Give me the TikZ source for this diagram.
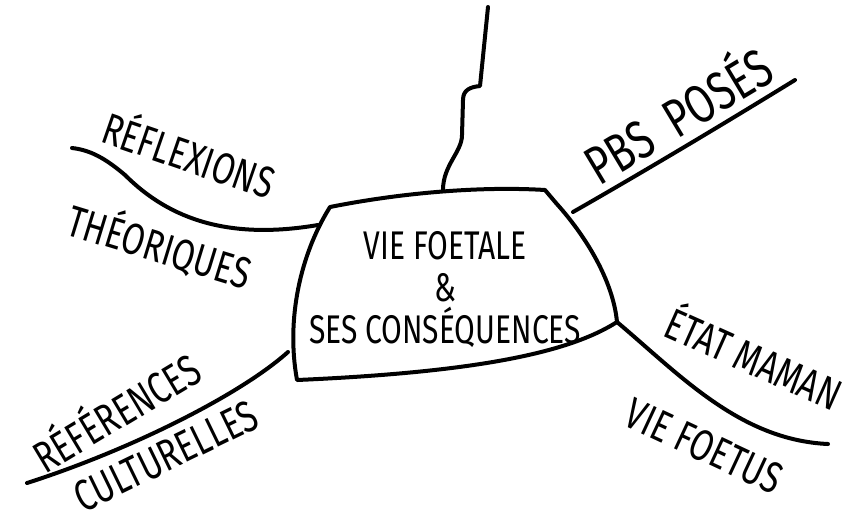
\documentclass[tikz,border=0pt]{standalone}
\usepackage{fontspec}
\newfontfamily\handfont[FakeStretch=0.75]{Fira Sans}
\begin{document}
\begin{tikzpicture}[x=0.5pt, y=-0.5pt, line width=2pt, line cap=round, line join=round,
  etiquette/.style={font=\handfont\fontsize{22}{22}\selectfont, inner sep=0pt},
  centre/.style={font=\handfont\fontsize{20}{21}\selectfont, align=center, inner sep=0pt}]
\useasboundingbox (0,0) rectangle (861,521);
% Coordonnees
\coordinate (HG) at (330,207);
\coordinate (HD) at (545,190);
\coordinate (D)  at (556,203);
\coordinate (BD) at (617,322);
\coordinate (BG) at (297,380);
\coordinate (tige)  at (443,190);
\coordinate (pbs)   at (573,212);
\coordinate (refl)  at (318,225);
\coordinate (ref)   at (288,352);
\coordinate (etat)  at (BD);
\coordinate (tigeF) at (488,7);
\coordinate (pbsF)  at (795,80);
\coordinate (reflF) at (72,148);
\coordinate (refF)  at (27,483);
\coordinate (etatF) at (828,444);
% Noeuds
\node [centre] (vie) at (445,290) {VIE FOETALE\\\&\\SES CONSÉQUENCES};
\node [etiquette, font=\handfont\fontsize{27}{27}\selectfont, rotate=31] (PBS) at (676,112) {PBS\ \ POSÉS};
\node [etiquette, rotate=-19] (REFL) at (190,152) {RÉFLEXIONS};
\node [etiquette, rotate=-17] (THEO) at (160,245) {THÉORIQUES};
\node [etiquette, rotate=31] (REF) at (115,410) {RÉFÉRENCES};
\node [etiquette, rotate=26] (CULT) at (166,456) {CULTURELLES};
\node [etiquette, rotate=-24] (ETAT) at (755,355) {ÉTAT MAMAN};
\node [etiquette, rotate=-25] (FOET) at (704,446) {VIE FOETUS};
% Bulle
\draw (HG) .. controls (400,193) and (480,186) .. (HD) -- (D)
  .. controls (585,235) and (613,280) .. (BD)
  .. controls (570,352) and (480,372) .. (BG)
  .. controls (286,320) and (300,255) .. (HG);
% Branches
% ---
\draw (tige) .. controls (443,165) and (462,152) .. (462,135) -- (463,100)
  .. controls (463,90) and (470,87) .. (480,86) -- (tigeF);
\draw (pbs) .. controls (650,168) and (730,120) .. (pbsF);
\draw (refl) .. controls (230,240) and (170,220) .. (125,175)
  .. controls (105,158) and (90,150) .. (reflF);
\draw (ref) .. controls (240,395) and (130,450) .. (refF);
\draw (etat) .. controls (680,375) and (740,440) .. (etatF);
\end{tikzpicture}
\end{document}
